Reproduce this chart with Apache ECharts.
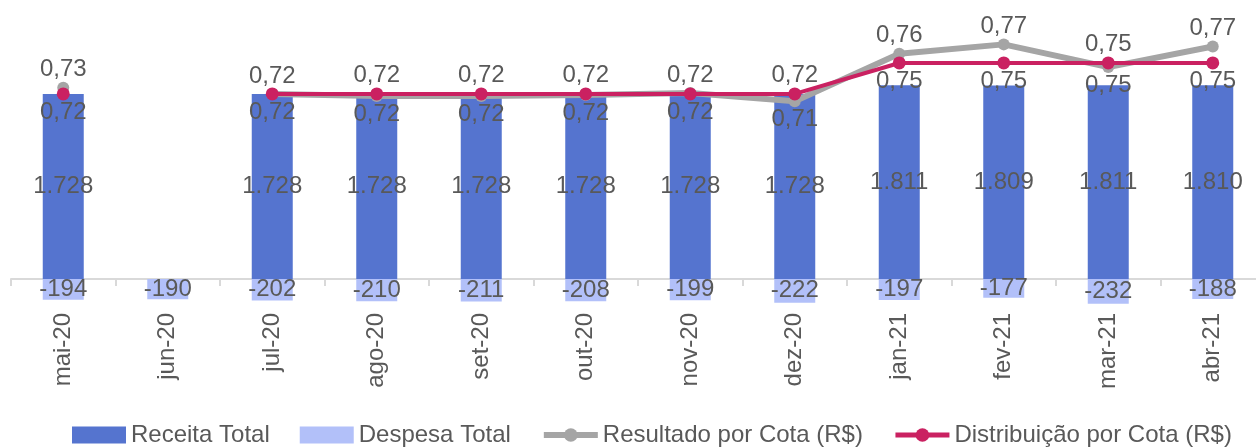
<!DOCTYPE html>
<html>
<head>
<meta charset="utf-8">
<script src="https://cdn.jsdelivr.net/npm/echarts@6/dist/echarts.min.js"></script>
<style>
  html, body { margin: 0; padding: 0; background: #fff; }
  #chart { width: 1256px; height: 447px; }
</style>
</head>
<body>
<div id="chart"></div>
<script>
var months = ['mai-20', 'jun-20', 'jul-20', 'ago-20', 'set-20', 'out-20', 'nov-20', 'dez-20', 'jan-21', 'fev-21', 'mar-21', 'abr-21'];
var receita = [1728, null, 1728, 1728, 1728, 1728, 1728, 1728, 1811, 1809, 1811, 1810];
var despesa = [-194, -190, -202, -210, -211, -208, -199, -222, -197, -177, -232, -188];
var resultado = [0.726, null, 0.72, 0.718, 0.718, 0.719, 0.721, 0.713, 0.759, 0.768, 0.746, 0.766];
var distribuicao = [0.72, null, 0.72, 0.72, 0.72, 0.72, 0.72, 0.72, 0.75, 0.75, 0.75, 0.75];

var txt = '#595959';
var font = 'Liberation Sans, Arial, sans-serif';

function milhar(v) {
	var s = String(Math.abs(v)).replace(/\B(?=(\d{3})+(?!\d))/g, '.');
	return (v < 0 ? '-' : '') + s;
}
function cota(v) {
	return v.toFixed(2).replace('.', ',');
}

// the higher of the two lines gets its label on top, the other one below
var resultadoData = resultado.map(function (v, i) {
	if (v == null) return null;
	return { value: v, label: { position: v >= distribuicao[i] ? 'top' : 'bottom' } };
});
var distribuicaoData = distribuicao.map(function (v, i) {
	if (v == null) return null;
	return { value: v, label: { position: v > resultado[i] ? 'top' : 'bottom' } };
});

var chart = echarts.init(document.getElementById('chart'));
chart.setOption({
	animation: false,
	textStyle: { fontFamily: font },
	grid: { left: 11, right: -9, top: 7, bottom: 136, outerBoundsMode: 'none' },
	legend: {
		left: 67,
		top: 418,
		itemWidth: 54,
		itemHeight: 17,
		itemGap: 30,
		textStyle: { color: txt, fontSize: 24, fontFamily: font },
		data: [
			{ name: 'Receita Total', icon: 'rect' },
			{ name: 'Despesa Total', icon: 'rect' },
			{ name: 'Resultado por Cota (R$)', lineStyle: { width: 6 } },
			{ name: 'Distribuição por Cota (R$)', lineStyle: { width: 5 } }
		]
	},
	xAxis: {
		type: 'category',
		data: months,
		axisLine: { onZero: true, lineStyle: { color: '#d9d9d9', width: 2 } },
		axisTick: { show: true, length: 7, lineStyle: { color: '#d9d9d9', width: 2 } },
		// labels are laid out from the grid bottom, not from the zero line
		axisLabel: { rotate: 90, margin: 2, color: txt, fontSize: 24, fontFamily: font }
	},
	yAxis: [
		{
			type: 'value', min: -300, max: 2542,
			axisLine: { show: false }, axisTick: { show: false },
			axisLabel: { show: false }, splitLine: { show: false }
		},
		{
			type: 'value', min: 0.5098, max: 0.8042,
			axisLine: { show: false }, axisTick: { show: false },
			axisLabel: { show: false }, splitLine: { show: false }
		}
	],
	series: [
		{
			name: 'Receita Total',
			type: 'bar',
			stack: 'total',
			barWidth: 41,
			data: receita,
			itemStyle: { color: '#5574cf' },
			label: {
				show: true, position: 'inside', color: txt, fontSize: 24, fontFamily: font,
				formatter: function (p) { return milhar(p.value); }
			}
		},
		{
			name: 'Despesa Total',
			type: 'bar',
			stack: 'total',
			barWidth: 41,
			data: despesa,
			itemStyle: { color: '#b2c0f9' },
			label: {
				show: true, position: 'inside', color: txt, fontSize: 24, fontFamily: font,
				formatter: function (p) { return milhar(p.value); }
			}
		},
		{
			name: 'Resultado por Cota (R$)',
			type: 'line',
			yAxisIndex: 1,
			data: resultadoData,
			symbol: 'circle',
			symbolSize: 12,
			lineStyle: { color: '#a5a5a5', width: 6 },
			itemStyle: { color: '#a5a5a5' },
			label: {
				show: true, distance: 0, color: txt, fontSize: 24, fontFamily: font,
				formatter: function (p) { return cota(p.value); }
			},
			z: 3
		},
		{
			name: 'Distribuição por Cota (R$)',
			type: 'line',
			yAxisIndex: 1,
			data: distribuicaoData,
			symbol: 'circle',
			symbolSize: 13,
			lineStyle: { color: '#ca2161', width: 4 },
			itemStyle: { color: '#ca2161' },
			label: {
				show: true, distance: 0, color: txt, fontSize: 24, fontFamily: font,
				formatter: function (p) { return cota(p.value); }
			},
			z: 4
		}
	]
});
</script>
</body>
</html>
